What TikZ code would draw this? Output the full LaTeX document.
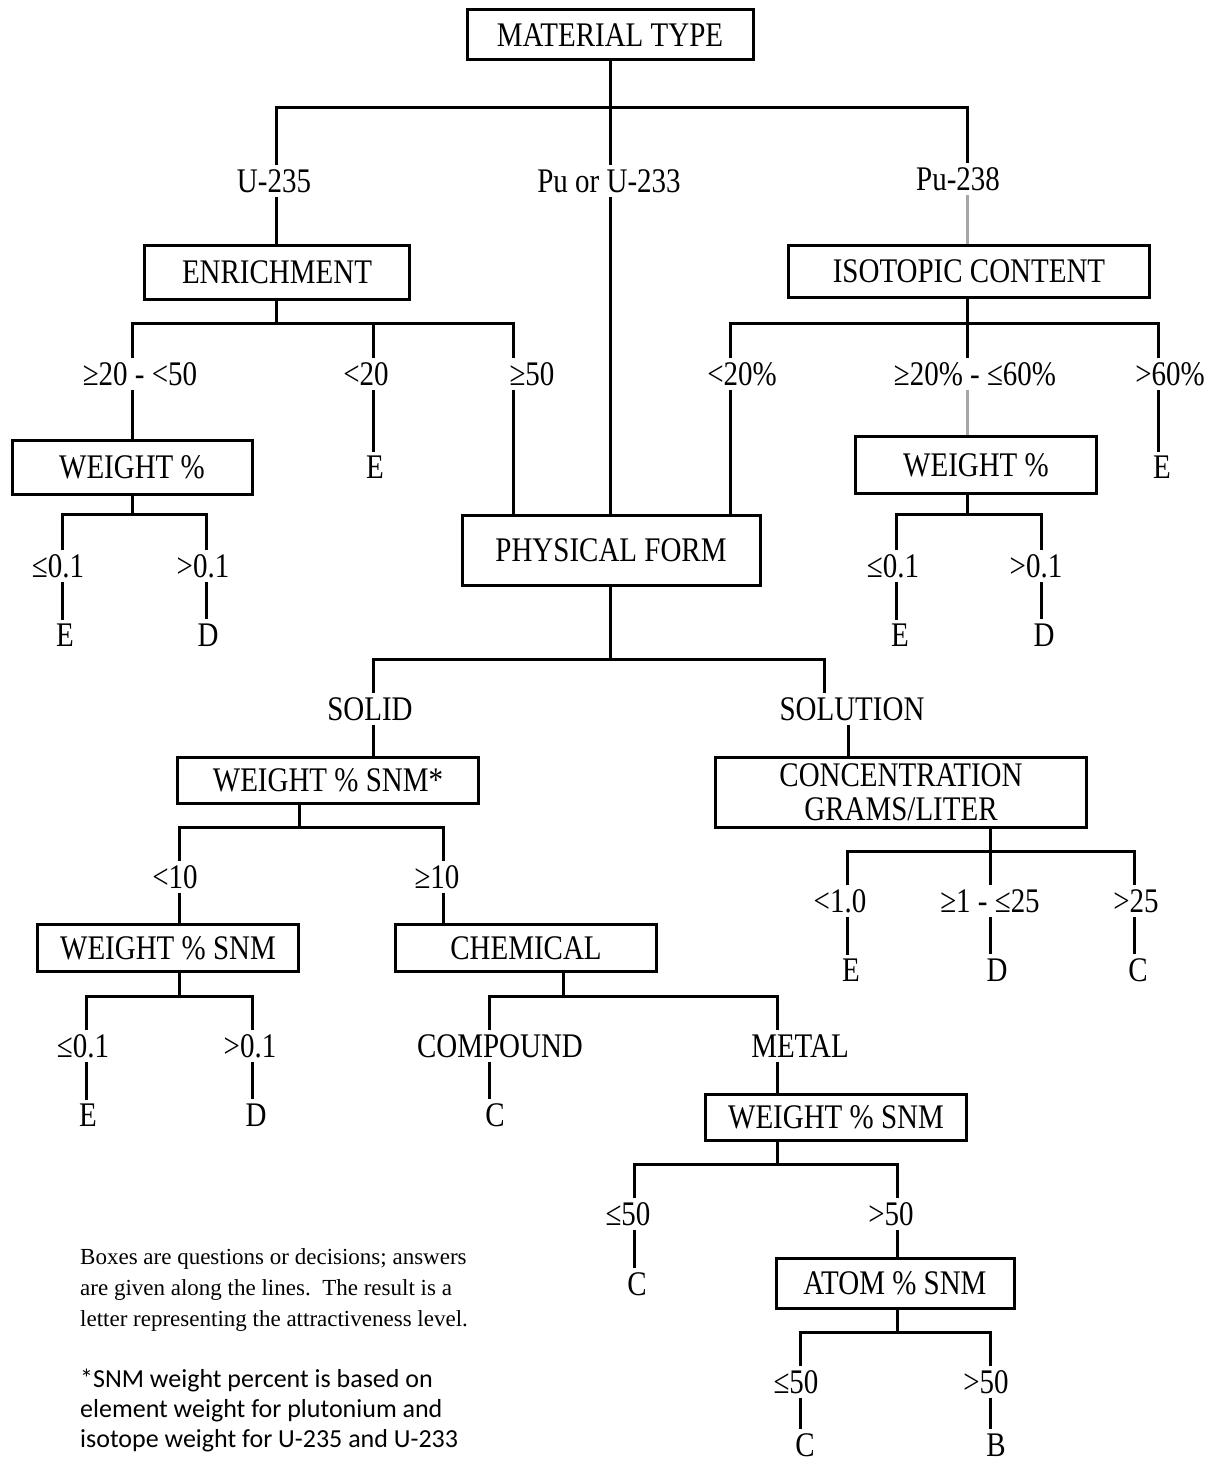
\documentclass[tikz,border=0pt]{standalone}
\usepackage{fontspec}
\setmainfont{Liberation Serif}[FakeStretch=0.84]
\newfontfamily\notefont{Liberation Serif}
\newfontfamily\starfont{Carlito}
\usepackage{tikz}

\tikzset{
  qbox/.style={draw, line width=3pt, inner sep=0pt, align=center},
  ans/.style={inner sep=4pt},
  link/.style={line width=3pt},
  glink/.style={line width=3pt, color=black!35},
}

\begin{document}
\begin{tikzpicture}[x=1pt,y=1pt,yscale=-1,xscale=1,font=\fontsize{34.5}{34}\selectfont]
\useasboundingbox (0,0) rectangle (1216,1464);

% Boxes
\node[qbox, minimum width=286pt, minimum height=50pt] (mt) at (610,35) {MATERIAL TYPE};
\node[qbox, minimum width=265pt, minimum height=54pt] (enr) at (277,272) {ENRICHMENT};
\node[qbox, minimum width=361pt, minimum height=52pt] (iso) at (969,271) {ISOTOPIC CONTENT};
\node[qbox, minimum width=240pt, minimum height=54pt] (wtA) at (132,467) {WEIGHT \%};
\node[qbox, minimum width=241pt, minimum height=57pt] (wtB) at (976,465) {WEIGHT \%};
\node[qbox, minimum width=298pt, minimum height=70pt] (phys) at (611,550) {PHYSICAL FORM};
\node[qbox, minimum width=301pt, minimum height=46pt] (snmS) at (328,780) {WEIGHT \% SNM*};
\node[qbox, minimum width=371pt, minimum height=70pt] (conc) at (901,792) {CONCENTRATION\\GRAMS/LITER};
\node[qbox, minimum width=261pt, minimum height=47pt] (snmL) at (168,948) {WEIGHT \% SNM};
\node[qbox, minimum width=261pt, minimum height=47pt] (chem) at (526,948) {CHEMICAL};
\node[qbox, minimum width=261pt, minimum height=46pt] (snmM) at (836,1117) {WEIGHT \% SNM};
\node[qbox, minimum width=238pt, minimum height=50pt] (atom) at (895,1283) {ATOM \% SNM};

% Answers along the lines
\node[ans] (u235) at (274,181) {U-235};
\node[ans] (puu) at (609,181) {Pu or U-233};
\node[ans] (pu238) at (958,179) {Pu-238};
\node[ans] (e1) at (140,374) {≥20 - <50};
\node[ans] (e2) at (366,374) {<20};
\node[ans] (e3) at (532,374) {≥50};
\node[ans] (e2E) at (375,467) {E};
\node[ans] (r1) at (58,566) {≤0.1};
\node[ans] (rE1) at (65,635) {E};
\node[ans] (r2) at (203,566) {>0.1};
\node[ans] (rD1) at (208,635) {D};
\node[ans] (i1) at (742,374) {<20\%};
\node[ans] (i2) at (975,374) {≥20\% - ≤60\%};
\node[ans] (i3) at (1170,374) {>60\%};
\node[ans] (i3E) at (1162,467) {E};
\node[ans] (s1) at (893,566) {≤0.1};
\node[ans] (s1E) at (900,635) {E};
\node[ans] (s2) at (1036,566) {>0.1};
\node[ans] (s2D) at (1044,635) {D};
\node[ans] (solid) at (370,709) {SOLID};
\node[ans] (soln) at (852,709) {SOLUTION};
\node[ans] (c1) at (840,901) {<1.0};
\node[ans] (c1E) at (851,970) {E};
\node[ans] (c2) at (990,901) {≥1 - ≤25};
\node[ans] (c2D) at (997,970) {D};
\node[ans] (c3) at (1136,901) {>25};
\node[ans] (c3C) at (1138,970) {C};
\node[ans] (w1) at (175,877) {<10};
\node[ans] (w2) at (437,877) {≥10};
\node[ans] (l1) at (83,1046) {≤0.1};
\node[ans] (l1E) at (88,1115) {E};
\node[ans] (l2) at (250,1046) {>0.1};
\node[ans] (l2D) at (256,1115) {D};
\node[ans] (cmp) at (500,1046) {COMPOUND};
\node[ans] (cmpC) at (495,1115) {C};
\node[ans] (met) at (800,1046) {METAL};
\node[ans] (m1) at (628,1214) {≤50};
\node[ans] (m1C) at (637,1284) {C};
\node[ans] (m2) at (891,1214) {>50};
\node[ans] (a1) at (796,1382) {≤50};
\node[ans] (a1C) at (805,1445) {C};
\node[ans] (a2) at (986,1382) {>50};
\node[ans] (a2B) at (996,1445) {B};

% Material type
\coordinate (mtL) at (276,107);
\coordinate (mtR) at (967,107);
\draw[link] (u235.north -| mtL) -- (mtL) -- (mtR) -- (pu238.north -| mtR);
\draw[link] (mt.south) -- (mt.south |- mtL) -- (puu.north -| mt.south);
\draw[link] (u235.south -| mtL) -- (enr.north -| mtL);
\draw[link] (puu.south -| mt.south) -- (phys.north -| mt.south);
\draw[glink] (pu238.south -| mtR) -- (iso.north -| mtR);

% Enrichment
\coordinate (enL) at (132,323);
\coordinate (enM) at (373,323);
\coordinate (enR) at (513,323);
\draw[link] (enr.south -| mtL) -- (mtL |- enL);
\draw[link] (e1.north -| enL) -- (enL) -- (enR) -- (e3.north -| enR);
\draw[link] (enM) -- (e2.north -| enM);
\draw[link] (e1.south -| enL) -- (wtA.north -| enL);
\draw[link] (e2.south -| enM) -- (e2E.north -| enM);
\draw[link] (e3.south -| enR) -- (phys.north -| enR);

% Weight % (U-235)
\coordinate (waL) at (62,514);
\coordinate (waR) at (206,514);
\draw[link] (wtA.south) -- (wtA.south |- waL);
\draw[link] (r1.north -| waL) -- (waL) -- (waR) -- (r2.north -| waR);
\draw[link] (r1.south -| waL) -- (rE1.north -| waL);
\draw[link] (r2.south -| waR) -- (rD1.north -| waR);

% Isotopic content
\coordinate (isL) at (730,323);
\coordinate (isM) at (967,323);
\coordinate (isR) at (1158,323);
\draw[link] (iso.south -| isM) -- (isM);
\draw[link] (i1.north -| isL) -- (isL) -- (isR) -- (i3.north -| isR);
\draw[link] (isM) -- (i2.north -| isM);
\draw[link] (i1.south -| isL) -- (phys.north -| isL);
\draw[glink] (i2.south -| isM) -- (wtB.north -| isM);
\draw[link] (i3.south -| isR) -- (i3E.north -| isR);

% Weight % (Pu-238)
\coordinate (wbL) at (896,514);
\coordinate (wbM) at (967,514);
\coordinate (wbR) at (1041,514);
\draw[link] (wtB.south -| wbM) -- (wbM);
\draw[link] (s1.north -| wbL) -- (wbL) -- (wbR) -- (s2.north -| wbR);
\draw[link] (s1.south -| wbL) -- (s1E.north -| wbL);
\draw[link] (s2.south -| wbR) -- (s2D.north -| wbR);

% Physical form
\coordinate (phL) at (373,659);
\coordinate (phM) at (610,659);
\coordinate (phR) at (824,659);
\coordinate (slX) at (848,740);
\draw[link] (phys.south -| phM) -- (phM);
\draw[link] (solid.north -| phL) -- (phL) -- (phR) -- (soln.north -| phR);
\draw[link] (solid.south -| phL) -- (snmS.north -| phL);
\draw[link] (soln.south -| slX) -- (conc.north -| slX);

% Weight % SNM* (solid)
\coordinate (ssL) at (179,827);
\coordinate (ssM) at (299,827);
\coordinate (ssR) at (443,827);
\draw[link] (snmS.south -| ssM) -- (ssM);
\draw[link] (w1.north -| ssL) -- (ssL) -- (ssR) -- (w2.north -| ssR);
\draw[link] (w1.south -| ssL) -- (snmL.north -| ssL);
\draw[link] (w2.south -| ssR) -- (chem.north -| ssR);

% Concentration
\coordinate (coL) at (847,851);
\coordinate (coM) at (990,851);
\coordinate (coR) at (1134,851);
\draw[link] (conc.south -| coM) -- (coM);
\draw[link] (c1.north -| coL) -- (coL) -- (coR) -- (c3.north -| coR);
\draw[link] (coM) -- (c2.north -| coM);
\draw[link] (c1.south -| coL) -- (c1E.north -| coL);
\draw[link] (c2.south -| coM) -- (c2D.north -| coM);
\draw[link] (c3.south -| coR) -- (c3C.north -| coR);

% Weight % SNM (<10)
\coordinate (lwL) at (86,996);
\coordinate (lwM) at (179,996);
\coordinate (lwR) at (252,996);
\draw[link] (snmL.south -| lwM) -- (lwM);
\draw[link] (l1.north -| lwL) -- (lwL) -- (lwR) -- (l2.north -| lwR);
\draw[link] (l1.south -| lwL) -- (l1E.north -| lwL);
\draw[link] (l2.south -| lwR) -- (l2D.north -| lwR);

% Chemical
\coordinate (chL) at (489,996);
\coordinate (chM) at (563,996);
\coordinate (chR) at (777,996);
\draw[link] (chem.south -| chM) -- (chM);
\draw[link] (cmp.north -| chL) -- (chL) -- (chR) -- (met.north -| chR);
\draw[link] (cmp.south -| chL) -- (cmpC.north -| chL);
\draw[link] (met.south -| chR) -- (snmM.north -| chR);

% Weight % SNM (metal)
\coordinate (smL) at (634,1164);
\coordinate (smM) at (777,1164);
\coordinate (smR) at (897,1164);
\draw[link] (snmM.south -| smM) -- (smM);
\draw[link] (m1.north -| smL) -- (smL) -- (smR) -- (m2.north -| smR);
\draw[link] (m1.south -| smL) -- (m1C.north -| smL);
\draw[link] (m2.south -| smR) -- (atom.north -| smR);

% Atom % SNM
\coordinate (atL) at (800,1332);
\coordinate (atM) at (897,1332);
\coordinate (atR) at (990,1332);
\draw[link] (atom.south -| atM) -- (atM);
\draw[link] (a1.north -| atL) -- (atL) -- (atR) -- (a2.north -| atR);
\draw[link] (a1.south -| atL) -- (a1C.north -| atL);
\draw[link] (a2.south -| atR) -- (a2B.north -| atR);

% Notes
\node[anchor=base west, align=left, inner sep=0pt, font=\notefont\fontsize{23}{31}\selectfont] (note1) at (80,1326)
  {Boxes are questions or decisions; answers\\are given along the lines.\ \ The result is a\\letter representing the attractiveness level.};
\node[anchor=base west, align=left, inner sep=0pt, font=\starfont\fontsize{26}{30}\selectfont] (note2) at (80,1447)
  {*SNM weight percent is based on\\element weight for plutonium and\\isotope weight for U-235 and U-233};

\end{tikzpicture}
\end{document}
